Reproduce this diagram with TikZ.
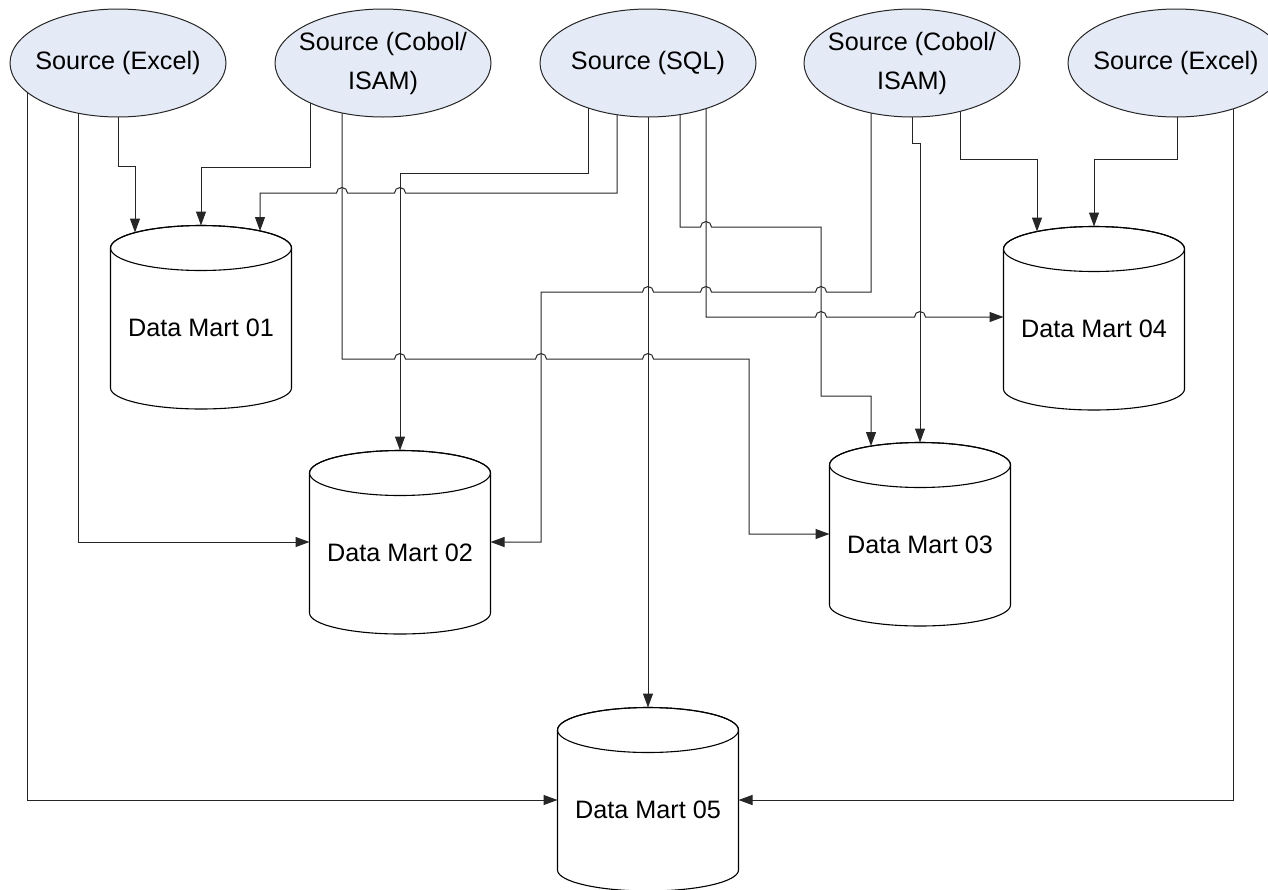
\documentclass[tikz,border=0pt]{standalone}
\usepackage{fontspec}
\setmainfont{Liberation Sans}
\usetikzlibrary{shapes.geometric,arrows.meta,calc,backgrounds}

\definecolor{srcfill}{RGB}{229,235,246}
\newcommand\labelfont{\fontsize{12.6pt}{19.5pt}\selectfont}

\tikzset{
  src/.style={ellipse, draw=black!85, line width=0.5pt, fill=srcfill,
    minimum width=108pt, minimum height=54pt, inner xsep=-6pt, inner ysep=0pt,
    align=center, font=\labelfont},
  mart/.style={inner sep=0pt, font=\labelfont},
  drum/.style={draw=black, line width=0.55pt, fill=white},
  flow/.style={draw=black!85, line width=0.5pt, -{Triangle[length=7pt,width=5pt]}},
}

% data mart: cylinder drawn around its label, then the named label node
\newcommand\martnode[3]{%
  \filldraw[drum] ($(#2)+(-90.5,-80)$) -- ($(#2)+(-90.5,60)$)
    arc[start angle=180, end angle=360, x radius=45.25pt, y radius=10.5pt]
    -- ($(#2)+(90.5,-80)$)
    arc[start angle=0, end angle=180, x radius=45.25pt, y radius=11.25pt] -- cycle;
  \draw[drum, fill=none] ($(#2)+(0,-80)$) ellipse[x radius=45.25pt, y radius=11.25pt];
  \node[mart] (#1) at (#2) {#3};%
}

\begin{document}
\begin{tikzpicture}[x=0.5pt, y=-0.5pt]
\useasboundingbox (0,0) rectangle (1268,889);
\clip (0,0) rectangle (1268,889);

% sources
\node[src] (S1) at (118,63)  {Source (Excel)};
\node[src] (S2) at (383,63)  {Source (Cobol/\\ISAM)};
\node[src] (S3) at (648,63)  {Source (SQL)};
\node[src] (S4) at (912,63)  {Source (Cobol/\\ISAM)};
\node[src] (S5) at (1176,63) {Source (Excel)};

% data marts
\martnode{D1}{201,328}{Data Mart 01}
\martnode{D2}{400,553}{Data Mart 02}
\martnode{D3}{920,545}{Data Mart 03}
\martnode{D4}{1094,329}{Data Mart 04}
\martnode{D5}{648,810}{Data Mart 05}

\begin{scope}[on background layer]
  % Source (Excel), left
  \draw[flow] ($(S1.center)+(-91,0)$) |- ($(D5)+(-90.5,-10)$);
  \draw[flow] ($(S1.center)+(-40,0)$) |- ($(D2)+(-90.5,-11)$);
  \draw[flow] (S1.center) -- ($(S1.center)+(0,103)$) -| ($(D1)+(-66,-95.5)$);

  % Source (Cobol/ISAM), left
  \draw[flow] ($(S2.center)+(-73,0)$) -- ($(S2.center)+(-73,104)$) -| ($(D1)+(0,-102.5)$);
  \draw[flow] ($(S2.center)+(-41,0)$) -- (342,359)
    -- (394.5,359) arc[start angle=180, end angle=0, radius=2.75pt]
    -- (535.5,359) arc[start angle=180, end angle=0, radius=2.75pt]
    -- (642.5,359) arc[start angle=180, end angle=0, radius=2.75pt]
    -- (749,359) |- ($(D3)+(-90.5,-11)$);

  % Source (SQL)
  \draw[flow] ($(S3.center)+(-60,0)$) -- ($(S3.center)+(-60,110)$) -| ($(D2)+(0,-102.5)$);
  \draw[flow] ($(S3.center)+(-31,0)$) -- (617,193)
    -- (405.5,193) arc[start angle=0, end angle=180, radius=2.75pt]
    -- (347.5,193) arc[start angle=0, end angle=180, radius=2.75pt]
    -- (260,193) -- ($(D1)+(59,-97)$);
  \draw[flow] (S3.center) -- ($(D5)+(0,-102.5)$);
  \draw[flow] ($(S3.center)+(32,0)$) -- (680,227)
    -- (700.5,227) arc[start angle=180, end angle=0, radius=2.75pt]
    -- (821,227) -- (821,396) -- (871,396) -- ($(D3)+(-49,-99)$);
  \draw[flow] ($(S3.center)+(58,0)$) -- (706,317)
    -- (815.5,317) arc[start angle=180, end angle=0, radius=2.75pt]
    -- (914.5,317) arc[start angle=180, end angle=0, radius=2.75pt]
    -- ($(D4)+(-90.5,-12)$);

  % Source (Cobol/ISAM), right
  \draw[flow] ($(S4.center)+(-41,0)$) -- (871,292)
    -- (826.5,292) arc[start angle=0, end angle=180, radius=2.75pt]
    -- (711.5,292) arc[start angle=0, end angle=180, radius=2.75pt]
    -- (653.5,292) arc[start angle=0, end angle=180, radius=2.75pt]
    -- (541,292) |- ($(D2)+(90.5,-11)$);
  \draw[flow] (S4.center) -- ($(S4.center)+(0,80)$) -| ($(D3)+(0,-102.5)$);
  \draw[flow] ($(S4.center)+(48,0)$) -- ($(S4.center)+(48,96)$) -| ($(D4)+(-57,-97.5)$);

  % Source (Excel), right
  \draw[flow] ($(S5.center)+(1,0)$) -- ($(S5.center)+(1,96)$) -| ($(D4)+(0,-102.5)$);
  \draw[flow] ($(S5.center)+(57,0)$) |- ($(D5)+(90.5,-10)$);
\end{scope}
\end{tikzpicture}
\end{document}
